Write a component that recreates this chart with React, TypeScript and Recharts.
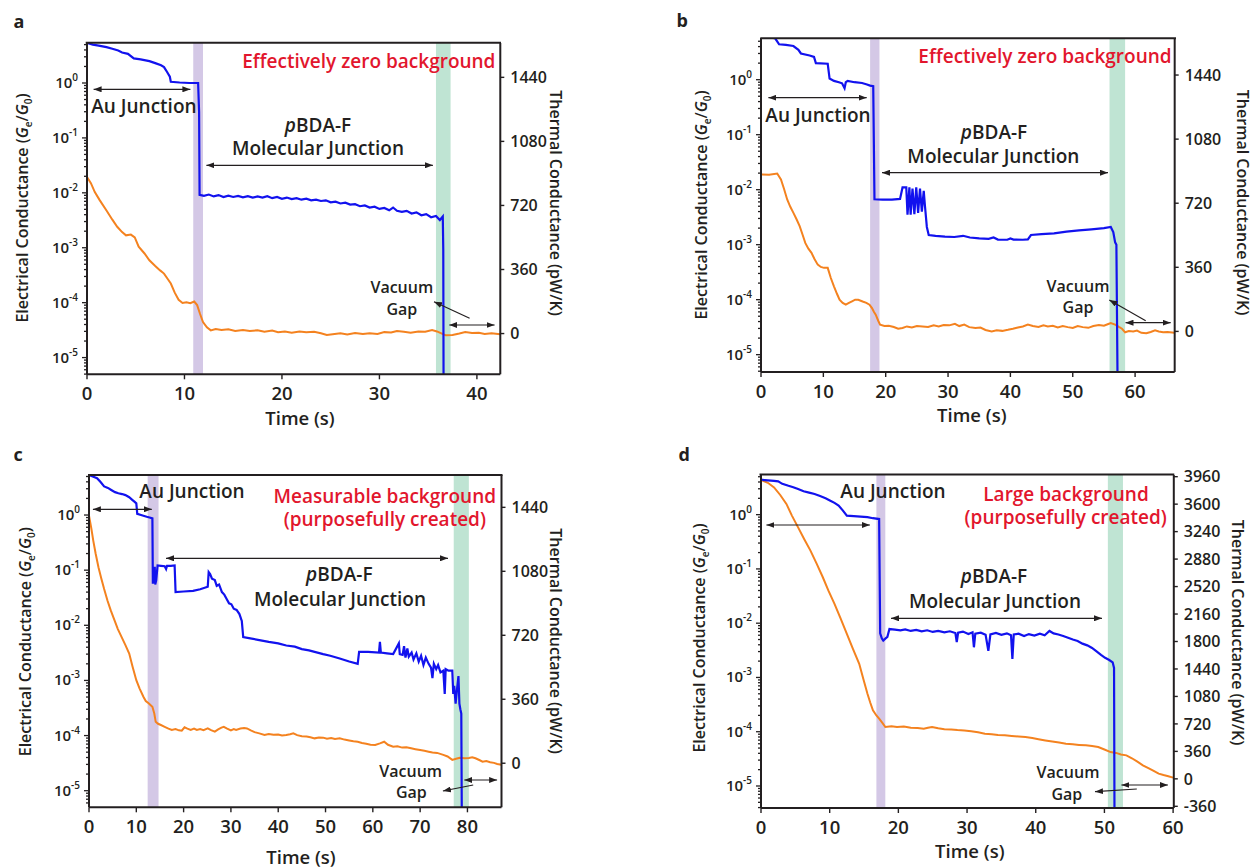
import React from 'react';
import { ComposedChart, Line, XAxis, YAxis, ReferenceArea } from 'recharts';

const FONT = "'Open Sans', 'Noto Sans', sans-serif";
const INK = '#231f20';
const BLUE = '#1212ee';
const ORANGE = '#f4821f';
const RED = '#e2162d';
const PURPLE = '#d4c8e6';
const GREEN = '#bfe4d3';

// time (s), electrical conductance (G/G0)
const aBlue = [
  [0, 5.4], [0.6, 5.0], [1.2, 4.8], [2.0, 4.5], [2.6, 4.2], [3.2, 3.9], [3.6, 3.6], [4.2, 3.4], [4.8, 2.8],
  [5.5, 2.7], [6.4, 2.5], [7.0, 2.3], [7.6, 2.1], [7.9, 1.95], [8.2, 1.6], [8.5, 1.3], [8.6, 1.05], [9.5, 1.02],
  [10.5, 1.0], [11.4, 1.0], [11.5, 0.3], [11.55, 0.0092], [12.0, 0.0088], [12.5, 0.0093], [13.0, 0.0086],
  [13.5, 0.0091], [14.0, 0.0084], [14.5, 0.0089], [15.0, 0.0084], [15.5, 0.0088], [16.0, 0.0083], [16.5, 0.0087],
  [17.0, 0.0082], [17.5, 0.0086], [18.0, 0.0082], [18.5, 0.0087], [19.0, 0.008], [19.5, 0.0084], [20.0, 0.0078],
  [20.5, 0.0082], [21.0, 0.0077], [21.5, 0.008], [22.0, 0.0075], [22.5, 0.0078], [23.0, 0.0073], [23.5, 0.0075],
  [24.0, 0.0071], [24.5, 0.0073], [25.0, 0.0067], [25.5, 0.0069], [26.0, 0.0064], [26.5, 0.0066], [27.0, 0.0061],
  [27.5, 0.0062], [28.0, 0.0057], [28.5, 0.0059], [29.0, 0.0054], [29.5, 0.0056], [30.0, 0.0051], [30.5, 0.0053],
  [31.0, 0.0048], [31.4, 0.0054], [31.8, 0.0047], [32.3, 0.0045], [32.8, 0.0047], [33.3, 0.0042], [33.8, 0.0044],
  [34.3, 0.0039], [34.8, 0.0041], [35.3, 0.0036], [35.8, 0.0038], [36.2, 0.0032], [36.5, 0.0037], [36.55, 0.0009],
  [36.6, 1e-7],
];
// time (s), thermal conductance (pW/K)
const aOrange = [
  [0, 880], [0.4, 845], [0.8, 795], [1.3, 750], [2.0, 692], [2.6, 640], [3.1, 600], [3.6, 570], [4.0, 552],
  [4.5, 556], [4.9, 540], [5.3, 488], [5.9, 450], [6.4, 412], [7.0, 380], [7.5, 355], [7.9, 337], [8.3, 305],
  [8.6, 281], [9.0, 230], [9.4, 190], [9.8, 172], [10.2, 176], [10.6, 171], [11.0, 180], [11.3, 160], [11.6, 110],
  [11.9, 65], [12.3, 35], [12.7, 18], [13.2, 25], [13.8, 20], [14.5, 24], [15.2, 14], [16.0, 20], [16.7, 15],
  [17.5, 18], [18.2, 10], [19.0, 17], [19.6, 8], [20.3, 12], [21.0, 5], [21.8, 12], [22.5, 7], [23.3, 10],
  [24.0, 2], [24.6, -8], [25.2, -4], [26.0, 2], [26.7, -5], [27.5, 3], [28.3, -3], [29.0, 2], [29.8, -2],
  [30.5, 8], [31.2, 6], [31.8, 14], [32.5, 10], [33.2, 4], [34.0, 12], [34.7, 10], [35.4, 20], [35.9, 12],
  [36.3, 2], [36.8, -10], [37.5, -8], [38.2, 0], [38.8, 8], [39.5, 3], [40.2, 4], [40.8, -2], [41.5, 2], [42.4, -4],
];

const bBlue = [
  [0, 5.9], [1.5, 5.9], [2.3, 5.6], [2.9, 4.4], [4.0, 4.3], [5.2, 4.1], [6.0, 3.5], [6.4, 3.0], [7.8, 2.75],
  [8.5, 2.6], [8.8, 2.0], [10.7, 1.95], [11.0, 1.05], [11.7, 0.95], [12.5, 0.9], [13.0, 0.86], [13.4, 0.7],
  [13.6, 0.9], [13.9, 0.95], [15.0, 0.9], [16.2, 0.87], [17.0, 0.82], [17.5, 0.78], [18.0, 0.76], [18.2, 0.0067],
  [19.5, 0.0066], [21.0, 0.0066], [22.3, 0.0068], [22.7, 0.011], [23.3, 0.011], [23.5, 0.0035], [23.8, 0.011],
  [24.0, 0.0035], [24.3, 0.0105], [24.6, 0.0036], [24.9, 0.011], [25.2, 0.0038], [25.5, 0.0105], [25.8, 0.004],
  [26.1, 0.0095], [26.3, 0.005], [26.6, 0.0021], [26.9, 0.0015], [28.0, 0.00145], [29.5, 0.0014], [31.0, 0.00138],
  [32.4, 0.00145], [33.5, 0.00135], [35.0, 0.0013], [36.5, 0.00128], [37.3, 0.00135], [38.0, 0.00124],
  [39.5, 0.00123], [40.0, 0.0013], [40.5, 0.00124], [42.0, 0.00123], [42.8, 0.00125], [43.3, 0.0015],
  [45.0, 0.00155], [47.0, 0.0016], [49.0, 0.00173], [51.0, 0.00182], [53.0, 0.0019], [55.0, 0.002],
  [56.1, 0.0021], [56.5, 0.0017], [56.8, 0.0011], [57.0, 0.001], [57.3, 1e-7],
];
const bOrange = [
  [0, 881], [1.3, 880], [2.6, 887], [3.2, 853], [3.7, 800], [4.2, 741], [4.7, 700], [5.2, 666], [5.7, 630],
  [6.2, 591], [6.7, 540], [7.1, 497], [7.6, 465], [8.1, 441], [8.6, 405], [9.1, 375], [9.6, 362], [10.1, 357],
  [10.7, 357], [11.2, 300], [11.7, 253], [12.2, 210], [12.6, 178], [13.1, 160], [13.6, 150], [14.1, 160],
  [14.6, 169], [15.1, 178], [15.6, 178], [16.3, 168], [16.9, 160], [17.4, 150], [17.8, 131], [18.1, 110],
  [18.4, 94], [18.8, 60], [19.1, 38], [19.8, 30], [20.5, 32], [21.3, 25], [22.0, 15], [22.7, 19], [23.4, 28],
  [24.2, 22], [25.0, 30], [25.9, 28], [26.8, 25], [27.7, 35], [28.5, 28], [29.3, 36], [30.2, 34], [31.1, 43],
  [31.8, 30], [32.6, 38], [33.4, 24], [34.4, 19], [35.2, 22], [36.0, 8], [37.0, 0], [37.8, 6], [38.7, 3],
  [39.6, 9], [40.4, 15], [41.2, 22], [42.0, 28], [42.8, 38], [43.6, 30], [44.5, 25], [45.3, 34], [46.0, 28],
  [46.8, 32], [47.6, 22], [48.4, 30], [49.2, 24], [50.0, 19], [50.8, 30], [51.6, 24], [52.5, 20], [53.3, 30],
  [54.2, 36], [55.0, 32], [55.6, 40], [56.1, 47], [56.8, 38], [57.4, 25], [57.9, 15], [58.4, -5], [59.0, 2],
  [59.7, 0], [60.3, 5], [61.0, -8], [61.8, -10], [62.5, -3], [63.2, 6], [63.8, 0], [64.5, -5], [65.2, -4], [66.3, -8],
];

const cBlue = [
  [0, 5.3], [0.8, 5.0], [1.7, 4.65], [2.4, 4.0], [3.2, 3.3], [4.0, 3.1], [4.7, 2.85], [5.5, 2.6], [6.2, 2.48],
  [7.0, 2.4], [7.7, 2.3], [8.5, 2.1], [9.2, 1.87], [9.6, 1.75], [10.0, 1.63], [10.2, 1.05], [11.0, 1.0],
  [11.5, 0.97], [12.2, 0.93], [12.8, 0.9], [13.4, 0.87], [13.5, 0.057], [13.7, 0.09], [13.9, 0.115], [14.0, 0.055],
  [14.2, 0.065], [14.5, 0.122], [15.2, 0.12], [16.0, 0.118], [16.3, 0.105], [16.5, 0.12], [17.3, 0.12],
  [18.1, 0.122], [18.3, 0.04], [20.0, 0.041], [22.0, 0.042], [23.5, 0.045], [25.1, 0.05], [25.3, 0.092],
  [25.6, 0.085], [26.0, 0.07], [26.6, 0.066], [27.0, 0.052], [27.5, 0.055], [28.1, 0.04], [28.6, 0.036],
  [29.1, 0.03], [29.6, 0.025], [30.1, 0.024], [30.6, 0.02], [31.2, 0.019], [31.8, 0.016], [32.3, 0.012],
  [32.6, 0.0061], [34.1, 0.0058], [36.0, 0.0054], [38.0, 0.005], [40.0, 0.0047], [41.7, 0.0043], [43.5, 0.0041],
  [45.0, 0.0037], [46.5, 0.0035], [47.7, 0.0033], [49.5, 0.003], [51.0, 0.0028], [53.0, 0.0025], [55.0, 0.0022],
  [56.8, 0.002], [57.1, 0.0033], [59.0, 0.0033], [61.3, 0.0032], [61.5, 0.005], [61.7, 0.0032], [63.0, 0.0031],
  [64.3, 0.003], [65.5, 0.0047], [65.7, 0.003], [66.3, 0.0029], [66.6, 0.0042], [66.9, 0.0026], [67.3, 0.0038],
  [67.6, 0.0027], [68.2, 0.0032], [68.6, 0.0024], [69.2, 0.0031], [69.7, 0.0022], [70.2, 0.0028], [70.7, 0.0019],
  [71.2, 0.0026], [71.8, 0.002], [72.3, 0.0017], [72.6, 0.0011], [72.9, 0.002], [73.4, 0.0016], [73.8, 0.0019],
  [74.3, 0.0014], [74.9, 0.0015], [75.2, 0.00057], [75.4, 0.0016], [76.0, 0.0015], [76.8, 0.0015], [77.0, 0.00057],
  [77.2, 0.0008], [77.5, 0.00038], [77.8, 0.0007], [78.1, 0.0012], [78.3, 0.00038], [78.5, 0.0003],
  [78.7, 0.00025], [78.9, 1e-7],
];
const cOrange = [
  [0, 1393], [0.5, 1320], [0.9, 1253], [1.4, 1180], [2.0, 1103], [2.6, 1040], [3.2, 980], [3.9, 916], [4.6, 860],
  [5.4, 804], [6.1, 755], [6.9, 710], [7.7, 665], [8.5, 617], [9.2, 545], [10.0, 467], [10.7, 420], [11.5, 374],
  [12.0, 350], [12.6, 337], [13.1, 325], [13.4, 318], [13.8, 280], [14.1, 233], [14.6, 222], [15.2, 215],
  [16.0, 205], [16.8, 195], [17.5, 187], [18.3, 192], [19.0, 185], [19.6, 183], [20.2, 202], [20.8, 195],
  [21.5, 188], [22.2, 195], [22.8, 187], [23.5, 192], [24.2, 186], [25.1, 196], [25.8, 186], [26.6, 178],
  [27.3, 190], [28.0, 200], [28.5, 205], [29.2, 195], [30.0, 185], [30.6, 192], [31.1, 187], [32.0, 195],
  [32.8, 198], [33.4, 196], [34.2, 185], [35.0, 175], [36.0, 168], [37.1, 159], [38.0, 165], [39.0, 160],
  [40.0, 162], [40.8, 156], [41.7, 159], [42.5, 163], [43.2, 168], [44.0, 158], [45.0, 152], [46.0, 150],
  [46.8, 146], [47.7, 140], [48.6, 145], [49.5, 144], [50.3, 138], [51.2, 142], [52.0, 137], [53.0, 140],
  [54.0, 133], [55.0, 128], [55.9, 124], [56.8, 121], [57.7, 114], [58.6, 110], [59.5, 104], [60.5, 103],
  [61.5, 112], [62.4, 121], [63.2, 104], [64.3, 93], [65.2, 96], [66.2, 88], [67.1, 90], [68.1, 84], [69.0, 79],
  [70.0, 74], [70.9, 70], [71.8, 65], [72.6, 60], [73.6, 58], [74.9, 47], [75.8, 38], [76.8, 19], [77.6, 25],
  [78.4, 31], [79.4, 28], [80.3, 30], [81.0, 34], [81.7, 28], [82.5, 18], [83.2, 9], [84.0, 12], [84.8, 6],
  [85.6, 2], [86.3, -4], [87.2, -9],
];

const dBlue = [
  [0, 4.4], [1.0, 4.3], [1.9, 4.2], [2.5, 4.1], [3.1, 3.7], [4.0, 3.4], [4.7, 3.2], [5.4, 2.97], [6.2, 2.7],
  [7.0, 2.55], [7.8, 2.4], [8.6, 2.2], [9.4, 2.0], [10.1, 1.81], [10.7, 1.65], [11.3, 1.47], [11.9, 1.2],
  [12.5, 0.96], [13.5, 0.94], [14.5, 0.92], [15.5, 0.9], [16.3, 0.86], [17.2, 0.83], [17.35, 0.0065],
  [17.6, 0.0052], [17.8, 0.0048], [18.1, 0.0052], [18.4, 0.0056], [18.7, 0.0078], [19.5, 0.0076], [20.3, 0.0074],
  [21.0, 0.0077], [21.8, 0.0072], [22.6, 0.0075], [23.4, 0.0071], [24.2, 0.0074], [25.0, 0.0069], [25.8, 0.0072],
  [26.7, 0.0068], [27.5, 0.0071], [28.3, 0.0066], [28.5, 0.0045], [28.7, 0.0067], [29.4, 0.007], [30.2, 0.0063],
  [30.8, 0.0068], [31.0, 0.0036], [31.2, 0.0064], [32.0, 0.0067], [32.7, 0.0061], [33.1, 0.0031], [33.4, 0.0062],
  [34.2, 0.0066], [35.0, 0.0061], [35.8, 0.0065], [36.4, 0.006], [36.6, 0.0022], [36.8, 0.0062], [37.5, 0.0064],
  [38.3, 0.0058], [39.0, 0.0063], [39.8, 0.0059], [40.6, 0.0064], [41.3, 0.006], [42.0, 0.0072], [42.6, 0.0065],
  [43.3, 0.0062], [44.0, 0.0058], [44.7, 0.0054], [45.4, 0.005], [46.1, 0.0047], [46.8, 0.0042], [47.5, 0.0039],
  [48.2, 0.0035], [48.9, 0.003], [49.5, 0.0026], [50.1, 0.0023], [50.7, 0.0021], [51.2, 0.0019], [51.4, 0.0015],
  [51.5, 1e-7],
];
const dOrange = [
  [0, 3917], [1.0, 3880], [1.9, 3820], [2.8, 3720], [3.7, 3603], [4.5, 3450], [5.4, 3296], [6.3, 3140],
  [7.2, 2991], [8.1, 2820], [9.0, 2642], [9.8, 2470], [10.7, 2294], [11.6, 2100], [12.5, 1901], [13.4, 1700],
  [14.3, 1508], [14.9, 1310], [15.5, 1116], [15.9, 1000], [16.3, 897], [16.8, 830], [17.2, 788], [17.7, 730],
  [18.1, 680], [19.0, 690], [19.8, 680], [20.8, 687], [21.8, 670], [22.8, 665], [23.7, 657], [24.3, 670],
  [24.9, 680], [25.8, 662], [26.7, 649], [27.7, 648], [28.6, 640], [29.6, 635], [30.6, 625], [31.6, 610],
  [32.6, 592], [33.6, 585], [34.5, 575], [35.5, 570], [36.5, 562], [37.5, 555], [38.5, 548], [39.5, 535],
  [40.4, 520], [41.4, 504], [42.4, 490], [43.4, 475], [44.4, 461], [45.4, 452], [46.3, 445], [47.3, 439],
  [48.2, 430], [49.1, 417], [50.0, 385], [50.9, 351], [51.7, 340], [52.4, 320], [53.2, 308], [54.0, 270],
  [54.8, 225], [55.6, 177], [56.4, 140], [57.1, 108], [57.9, 68], [58.6, 50], [59.3, 35], [60.0, 16],
];

const gMajor = [1e-5, 1e-4, 1e-3, 1e-2, 1e-1, 1];
const kTicks = [0, 360, 720, 1080, 1440];
const kTicksD = [-360, 0, 360, 720, 1080, 1440, 1800, 2160, 2520, 2880, 3240, 3600, 3960];

const toPts = (arr: number[][]) => arr.map(([t, v]) => ({ t, v }));

const logTicks = (lo: number, hi: number) => {
  const out: number[] = [];
  [1e-6, ...gMajor].forEach((m) => {
    for (let k = 1; k <= 9; k++) {
      const v = m * k;
      if (v >= lo && v <= hi) out.push(v);
    }
  });
  return out;
};

const LogTick = (props: any) => {
  const { x, y, payload } = props;
  const lg = Math.log10(payload.value);
  const major = Math.abs(lg - Math.round(lg)) < 1e-6;
  const len = major ? 5 : 3;
  return (
    <g>
      <line x1={x} x2={x - len} y1={y} y2={y} stroke={INK} strokeWidth={1.3} />
      {major && (
        <text x={x - 9} y={y + 5} textAnchor="end" fontSize={15} fontFamily={FONT} fontWeight={600} fill={INK}>
          10<tspan dy={-7} fontSize={10}>{Math.round(lg)}</tspan>
        </text>
      )}
    </g>
  );
};

const TimeTick = (props: any) => {
  const { x, y, payload } = props;
  return (
    <g>
      <line x1={x} x2={x} y1={y} y2={y + 5} stroke={INK} strokeWidth={1.4} />
      <text x={x} y={y + 26} textAnchor="middle" fontSize={18.5} fontFamily={FONT} fontWeight={600} fill={INK}>
        {payload.value}
      </text>
    </g>
  );
};

const KTick = (props: any) => {
  const { x, y, payload } = props;
  return (
    <g>
      <line x1={x} x2={x + 4} y1={y} y2={y} stroke={INK} strokeWidth={1.4} />
      <text x={x + 10} y={y + 5.8} textAnchor="start" fontSize={16} fontFamily={FONT} fontWeight={600} fill={INK}>
        {payload.value}
      </text>
    </g>
  );
};

const panels = [
  {
    id: 'a', plot: { x0: 86.7, x1: 500, y0: 42.7, y1: 374 }, xMax: 42.4, xTicks: [0, 10, 20, 30, 40],
    gDomain: [4.96e-6, 5.35], kDomain: [-229, 1633], kTicks, blue: aBlue, orange: aOrange,
    purple: [10.9, 11.9], green: [35.8, 37.3],
  },
  {
    id: 'b', plot: { x0: 761.3, x1: 1175, y0: 38.3, y1: 372.3 }, xMax: 66.35, xTicks: [0, 10, 20, 30, 40, 50, 60],
    gDomain: [4.84e-6, 5.73], kDomain: [-228, 1648], kTicks, blue: bBlue, orange: bOrange,
    purple: [17.5, 19.0], green: [55.9, 58.4],
  },
  {
    id: 'c', plot: { x0: 89, x1: 501.5, y0: 475, y1: 807.3 }, xMax: 87.2, xTicks: [0, 10, 20, 30, 40, 50, 60, 70, 80],
    gDomain: [5.0e-6, 5.32], kDomain: [-248, 1622], kTicks, blue: cBlue, orange: cOrange,
    purple: [12.4, 14.7], green: [77.1, 80.3],
  },
  {
    id: 'd', plot: { x0: 760.5, x1: 1173.3, y0: 474.5, y1: 807.5 }, xMax: 60.1, xTicks: [0, 10, 20, 30, 40, 50, 60],
    gDomain: [3.93e-6, 5.38], kDomain: [-382, 3982], kTicks: kTicksD, blue: dBlue, orange: dOrange,
    purple: [16.8, 18.1], green: [50.5, 52.7],
  },
];

const WL = 60;
const WR = 50;
const HX = 34;
const M = 10;

function Panel({ p }: { p: any }) {
  const w = p.plot.x1 - p.plot.x0 + WL + WR + 2 * M;
  const h = p.plot.y1 - p.plot.y0 + HX + 2 * M;
  const axisLine = { stroke: INK, strokeWidth: 2 };
  return (
    <div style={{ position: 'absolute', left: p.plot.x0 - WL - M, top: p.plot.y0 - M }}>
      <ComposedChart width={w} height={h} margin={{ top: M, right: M, bottom: M, left: M }}>
        <XAxis
          dataKey="t" type="number" domain={[0, p.xMax]} ticks={p.xTicks} allowDataOverflow height={HX}
          axisLine={axisLine} tickLine={false} tickSize={0} tickMargin={0} interval={0} tick={<TimeTick />}
        />
        <YAxis
          yAxisId="g" scale="log" type="number" domain={p.gDomain} ticks={logTicks(p.gDomain[0], p.gDomain[1])}
          allowDataOverflow width={WL} axisLine={axisLine} tickLine={false} tickSize={0} tickMargin={0}
          interval={0} tick={<LogTick />}
        />
        <YAxis
          yAxisId="k" orientation="right" type="number" domain={p.kDomain} ticks={p.kTicks} allowDataOverflow
          width={WR} axisLine={axisLine} tickLine={false} tickSize={0} tickMargin={0} interval={0} tick={<KTick />}
        />
        <ReferenceArea yAxisId="g" x1={p.purple[0]} x2={p.purple[1]} y1={p.gDomain[0]} y2={p.gDomain[1]} fill={PURPLE} fillOpacity={1} stroke="none" />
        <ReferenceArea yAxisId="g" x1={p.green[0]} x2={p.green[1]} y1={p.gDomain[0]} y2={p.gDomain[1]} fill={GREEN} fillOpacity={1} stroke="none" />
        <Line yAxisId="k" data={toPts(p.orange)} dataKey="v" type="linear" stroke={ORANGE} strokeWidth={2} dot={false} isAnimationActive={false} />
        <Line yAxisId="g" data={toPts(p.blue)} dataKey="v" type="linear" stroke={BLUE} strokeWidth={2.2} dot={false} isAnimationActive={false} />
      </ComposedChart>
    </div>
  );
}

type Note = { x: number; y: number; size: number; text: React.ReactNode; fill?: string; weight?: number; rot?: number; anchor?: string };
type Arrow = { x1: number; y1: number; x2: number; y2: number; both?: boolean };

const pB = (
  <>
    <tspan fontStyle="italic">p</tspan>BDA-F
  </>
);
const geLabel = (
  <>
    Electrical Conductance (<tspan fontStyle="italic">G</tspan>
    <tspan dy={4} fontSize={10}>e</tspan>
    <tspan dy={-4}>/</tspan>
    <tspan fontStyle="italic">G</tspan>
    <tspan dy={4} fontSize={10}>0</tspan>
    <tspan dy={-4}>)</tspan>
  </>
);
const kLabel = 'Thermal Conductance (pW/K)';

const notes: Note[] = [
  // a
  { x: 13.6, y: 28, size: 18, text: 'a', weight: 700, anchor: 'start' },
  { x: 368.8, y: 68.3, size: 19, text: 'Effectively zero background', fill: RED },
  { x: 143.9, y: 113, size: 19, text: 'Au Junction' },
  { x: 318, y: 131.7, size: 19, text: pB },
  { x: 318, y: 155, size: 19, text: 'Molecular Junction' },
  { x: 401.8, y: 293.3, size: 16, text: 'Vacuum' },
  { x: 401.8, y: 315, size: 16, text: 'Gap' },
  { x: 300, y: 425, size: 18.5, text: 'Time (s)' },
  { x: 28, y: 208, size: 16, text: geLabel, rot: -90 },
  { x: 550, y: 203, size: 16, text: kLabel, rot: 90 },
  // b
  { x: 676.6, y: 27.3, size: 18, text: 'b', weight: 700, anchor: 'start' },
  { x: 1045, y: 62.7, size: 19, text: 'Effectively zero background', fill: RED },
  { x: 818, y: 121.7, size: 19, text: 'Au Junction' },
  { x: 994, y: 139.3, size: 19, text: pB },
  { x: 993.4, y: 162.7, size: 19, text: 'Molecular Junction' },
  { x: 1078, y: 291.7, size: 16, text: 'Vacuum' },
  { x: 1078, y: 313.3, size: 16, text: 'Gap' },
  { x: 971.8, y: 422, size: 18.5, text: 'Time (s)' },
  { x: 707, y: 205, size: 16, text: geLabel, rot: -90 },
  { x: 1237, y: 202.5, size: 16, text: kLabel, rot: 90 },
  // c
  { x: 13.6, y: 460.7, size: 18, text: 'c', weight: 700, anchor: 'start' },
  { x: 192, y: 498.3, size: 19, text: 'Au Junction' },
  { x: 384.8, y: 503.3, size: 19, text: 'Measurable background', fill: RED },
  { x: 384.8, y: 526, size: 19, text: '(purposefully created)', fill: RED },
  { x: 339.3, y: 580.7, size: 19, text: pB },
  { x: 340, y: 605.7, size: 19, text: 'Molecular Junction' },
  { x: 410.7, y: 776.7, size: 16, text: 'Vacuum' },
  { x: 411.4, y: 798.3, size: 16, text: 'Gap' },
  { x: 301, y: 864, size: 18.5, text: 'Time (s)' },
  { x: 31, y: 641.7, size: 16, text: geLabel, rot: -90 },
  { x: 550, y: 641, size: 16, text: kLabel, rot: 90 },
  // d
  { x: 678.6, y: 460.7, size: 18, text: 'd', weight: 700, anchor: 'start' },
  { x: 893, y: 498.3, size: 19, text: 'Au Junction' },
  { x: 1066, y: 500.7, size: 19, text: 'Large background', fill: RED },
  { x: 1065.7, y: 523.8, size: 19, text: '(purposefully created)', fill: RED },
  { x: 994, y: 583.3, size: 19, text: pB },
  { x: 995, y: 608.3, size: 19, text: 'Molecular Junction' },
  { x: 1068, y: 778.3, size: 16, text: 'Vacuum' },
  { x: 1066.8, y: 800, size: 16, text: 'Gap' },
  { x: 969.8, y: 858, size: 18.5, text: 'Time (s)' },
  { x: 705, y: 638, size: 16, text: geLabel, rot: -90 },
  { x: 1232, y: 632.5, size: 16, text: kLabel, rot: 90 },
];

const arrows: Arrow[] = [
  { x1: 93.6, y1: 89.3, x2: 190.4, y2: 89.3, both: true },
  { x1: 206.4, y1: 165.3, x2: 432.9, y2: 165.3, both: true },
  { x1: 469.6, y1: 318.3, x2: 434, y2: 301.7 },
  { x1: 449.3, y1: 325, x2: 494.6, y2: 325, both: true },
  { x1: 768.4, y1: 97.7, x2: 866.7, y2: 97.7, both: true },
  { x1: 882, y1: 172.7, x2: 1108, y2: 172.7, both: true },
  { x1: 1145.7, y1: 320.7, x2: 1109.3, y2: 300 },
  { x1: 1125.5, y1: 322.7, x2: 1170.7, y2: 322.7, both: true },
  { x1: 92.9, y1: 509.3, x2: 151.8, y2: 509.3, both: true },
  { x1: 166, y1: 558.3, x2: 448, y2: 558.3, both: true },
  { x1: 473.2, y1: 785, x2: 442.9, y2: 791 },
  { x1: 464.3, y1: 780, x2: 497.1, y2: 780, both: true },
  { x1: 766.4, y1: 525, x2: 869.9, y2: 525, both: true },
  { x1: 891, y1: 618.3, x2: 1102, y2: 618.3, both: true },
  { x1: 1136.8, y1: 789, x2: 1095, y2: 791.7 },
  { x1: 1121.4, y1: 785, x2: 1167.9, y2: 785, both: true },
];

function Overlay() {
  return (
    <svg width={1254} height={868} style={{ position: 'absolute', left: 0, top: 0, pointerEvents: 'none' }}>
      <defs>
        <marker id="head" viewBox="0 0 8 6" refX={8} refY={3} markerWidth={8} markerHeight={6} markerUnits="userSpaceOnUse" orient="auto-start-reverse">
          <path d="M0,0 L8,3 L0,6 z" fill={INK} />
        </marker>
      </defs>
      {panels.map((p) => (
        <line key={p.id} x1={p.plot.x0 - 1} x2={p.plot.x1 + 1} y1={p.plot.y0} y2={p.plot.y0} stroke={INK} strokeWidth={2} />
      ))}
      {arrows.map((a, i) => (
        <line
          key={i} x1={a.x1} y1={a.y1} x2={a.x2} y2={a.y2} stroke={INK} strokeWidth={1.2}
          markerEnd="url(#head)" markerStart={a.both ? 'url(#head)' : undefined}
        />
      ))}
      {notes.map((n, i) => (
        <text
          key={i} x={0} y={0} transform={`translate(${n.x},${n.y})${n.rot ? ` rotate(${n.rot})` : ''}`}
          textAnchor={n.anchor || 'middle'} fontSize={n.size} fontFamily={FONT} fontWeight={n.weight || 600}
          fill={n.fill || INK}
        >
          {n.text}
        </text>
      ))}
    </svg>
  );
}

export default function App() {
  return (
    <div style={{ position: 'absolute', left: 0, top: 0, width: 1254, height: 868, background: '#fff' }}>
      {panels.map((p) => (
        <Panel key={p.id} p={p} />
      ))}
      <Overlay />
    </div>
  );
}
